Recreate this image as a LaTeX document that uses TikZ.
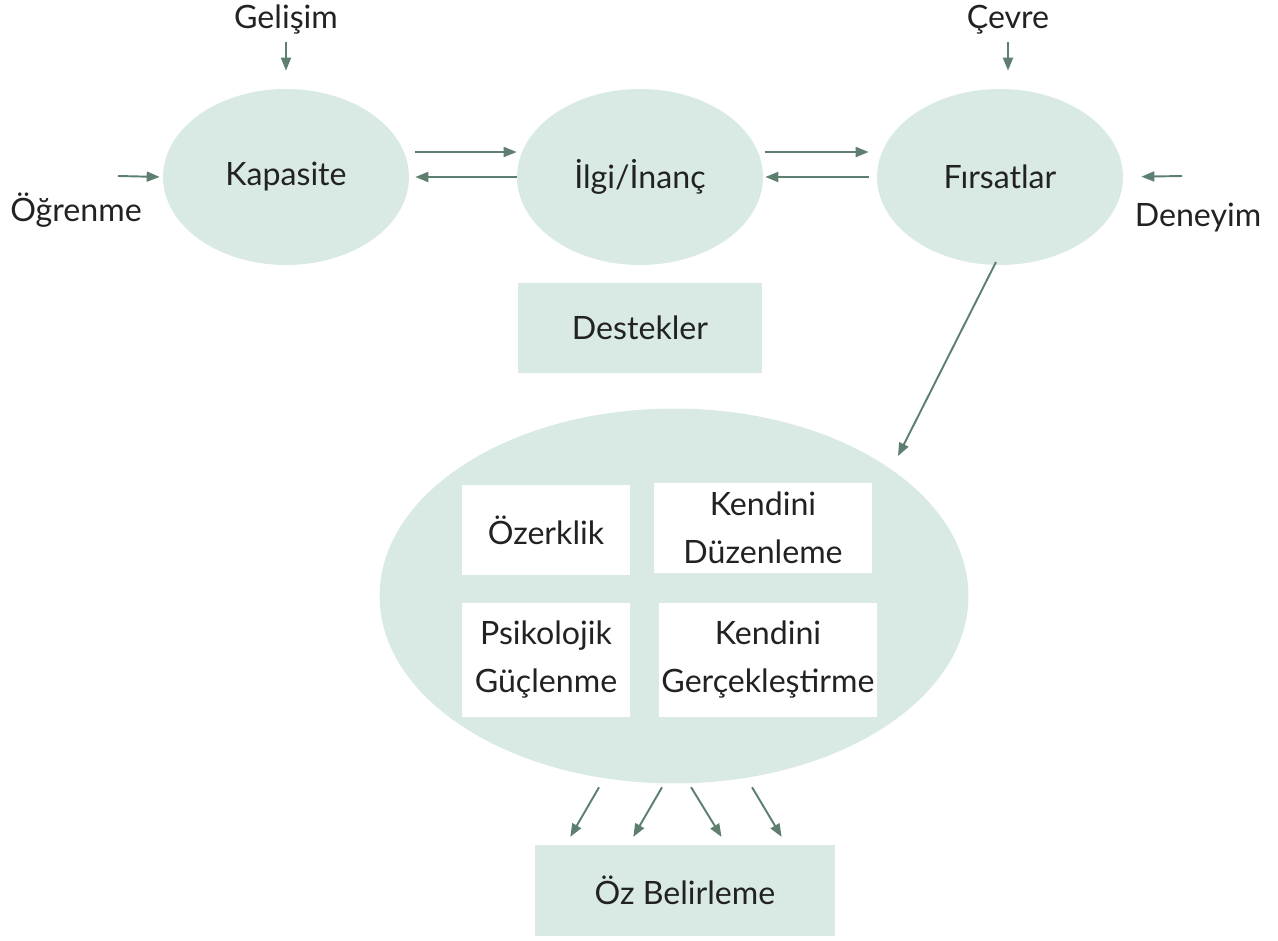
\documentclass[tikz,border=0pt]{standalone}
\usepackage{fontspec}
\setmainfont{Lato}
\usetikzlibrary{shapes.geometric, arrows.meta}
\definecolor{palegreen}{HTML}{D9EAE4}
\definecolor{arrowgreen}{HTML}{5E7F6F}
\definecolor{textgray}{HTML}{222222}
\newcommand{\lblfont}{\fontsize{18.3}{27.3}\selectfont}
\tikzstyle{cgreen}=[ellipse, fill=palegreen, inner sep=0pt, minimum width=4.92cm, minimum height=3.52cm, font=\lblfont, text=textgray]
\tikzstyle{bgreen}=[rectangle, fill=palegreen, inner sep=0pt, minimum width=4.9cm, minimum height=1.82cm, font=\lblfont, text=textgray]
\tikzstyle{bwhite}=[rectangle, fill=white, inner sep=0pt, align=center, font=\lblfont, text=textgray]
\tikzstyle{lbl}=[font=\lblfont, text=textgray]
\tikzstyle{arr}=[-{Triangle[length=0.26cm,width=0.2cm]}, arrowgreen, line width=1.1pt]

\begin{document}
\begin{tikzpicture}[x=0.02cm, y=-0.02cm]
\useasboundingbox (0,0) rectangle (1278,940);

\node[cgreen] (n1) at (286,177) {Kapasite};
\node[cgreen] (n2) at (640,177) {İlgi/İnanç};
\node[cgreen] (n3) at (1000,177) {Fırsatlar};
\node[bgreen] (n4) at (640,328) {Destekler};

\node[ellipse, fill=palegreen, minimum width=11.78cm, minimum height=7.5cm] (big) at (674,596) {};
\node[bwhite, minimum width=3.38cm, minimum height=1.8cm] (b1) at (546,530) {Özerklik};
\node[bwhite, minimum width=4.38cm, minimum height=1.8cm] (b2) at (763,528) {Kendini\\Düzenleme};
\node[bwhite, minimum width=3.38cm, minimum height=2.28cm] (b3) at (546,660) {Psikolojik\\Güçlenme};
\node[bwhite, minimum width=4.38cm, minimum height=2.28cm] (b4) at (768,660) {Kendini\\Gerçekleştirme};

\node[bgreen, minimum width=6cm] (oz) at (685,890) {Öz Belirleme};

\node[lbl] (l1) at (286,20) {Gelişim};
\node[lbl] (l2) at (1008,20) {Çevre};
\node[lbl] (l3) at (76,210) {Öğrenme};
\node[lbl] (l4) at (1198,218) {Deneyim};

\coordinate (g1) at (286,42);
\coordinate (c1) at (1008,42);
\coordinate (o1) at (118,176);
\coordinate (d1) at (1182,176);
\coordinate (f0) at (996,262);
\coordinate (f1) at (898,456);

% inputs
\draw[arr, shorten >=0.36cm] (g1) -- (n1.north);
\draw[arr, shorten >=0.36cm] (c1) -- ([xshift=0.16cm]n3.north);
\draw[arr, shorten >=0.06cm] (o1) -- (n1.west);
\draw[arr, shorten >=0.36cm] (d1) -- (n3.east);

% between ellipses
\draw[arr, shorten <=0.12cm] ([yshift=0.5cm]n1.east) -- ([yshift=0.5cm]n2.west);
\draw[arr, shorten >=0.12cm] (n2.west) -- (n1.east);
\draw[arr, shorten <=0.04cm, shorten >=0.16cm] ([yshift=0.5cm]n2.east) -- ([yshift=0.5cm]n3.west);
\draw[arr, shorten <=0.16cm, shorten >=0.04cm] (n3.west) -- (n2.east);

\draw[arr] (f0) -- (f1);

% outputs
\draw[arr, shorten <=0.08cm, shorten >=0.17cm] ([xshift=-1.46cm]big.south) -- ([xshift=-2.38cm]oz.north);
\draw[arr, shorten <=0.08cm, shorten >=0.17cm] ([xshift=-0.2cm]big.south) -- ([xshift=-1.12cm]oz.north);
\draw[arr, shorten <=0.08cm, shorten >=0.17cm] ([xshift=0.3cm]big.south) -- ([xshift=0.82cm]oz.north);
\draw[arr, shorten <=0.08cm, shorten >=0.17cm] ([xshift=1.52cm]big.south) -- ([xshift=2.02cm]oz.north);

\end{tikzpicture}
\end{document}
